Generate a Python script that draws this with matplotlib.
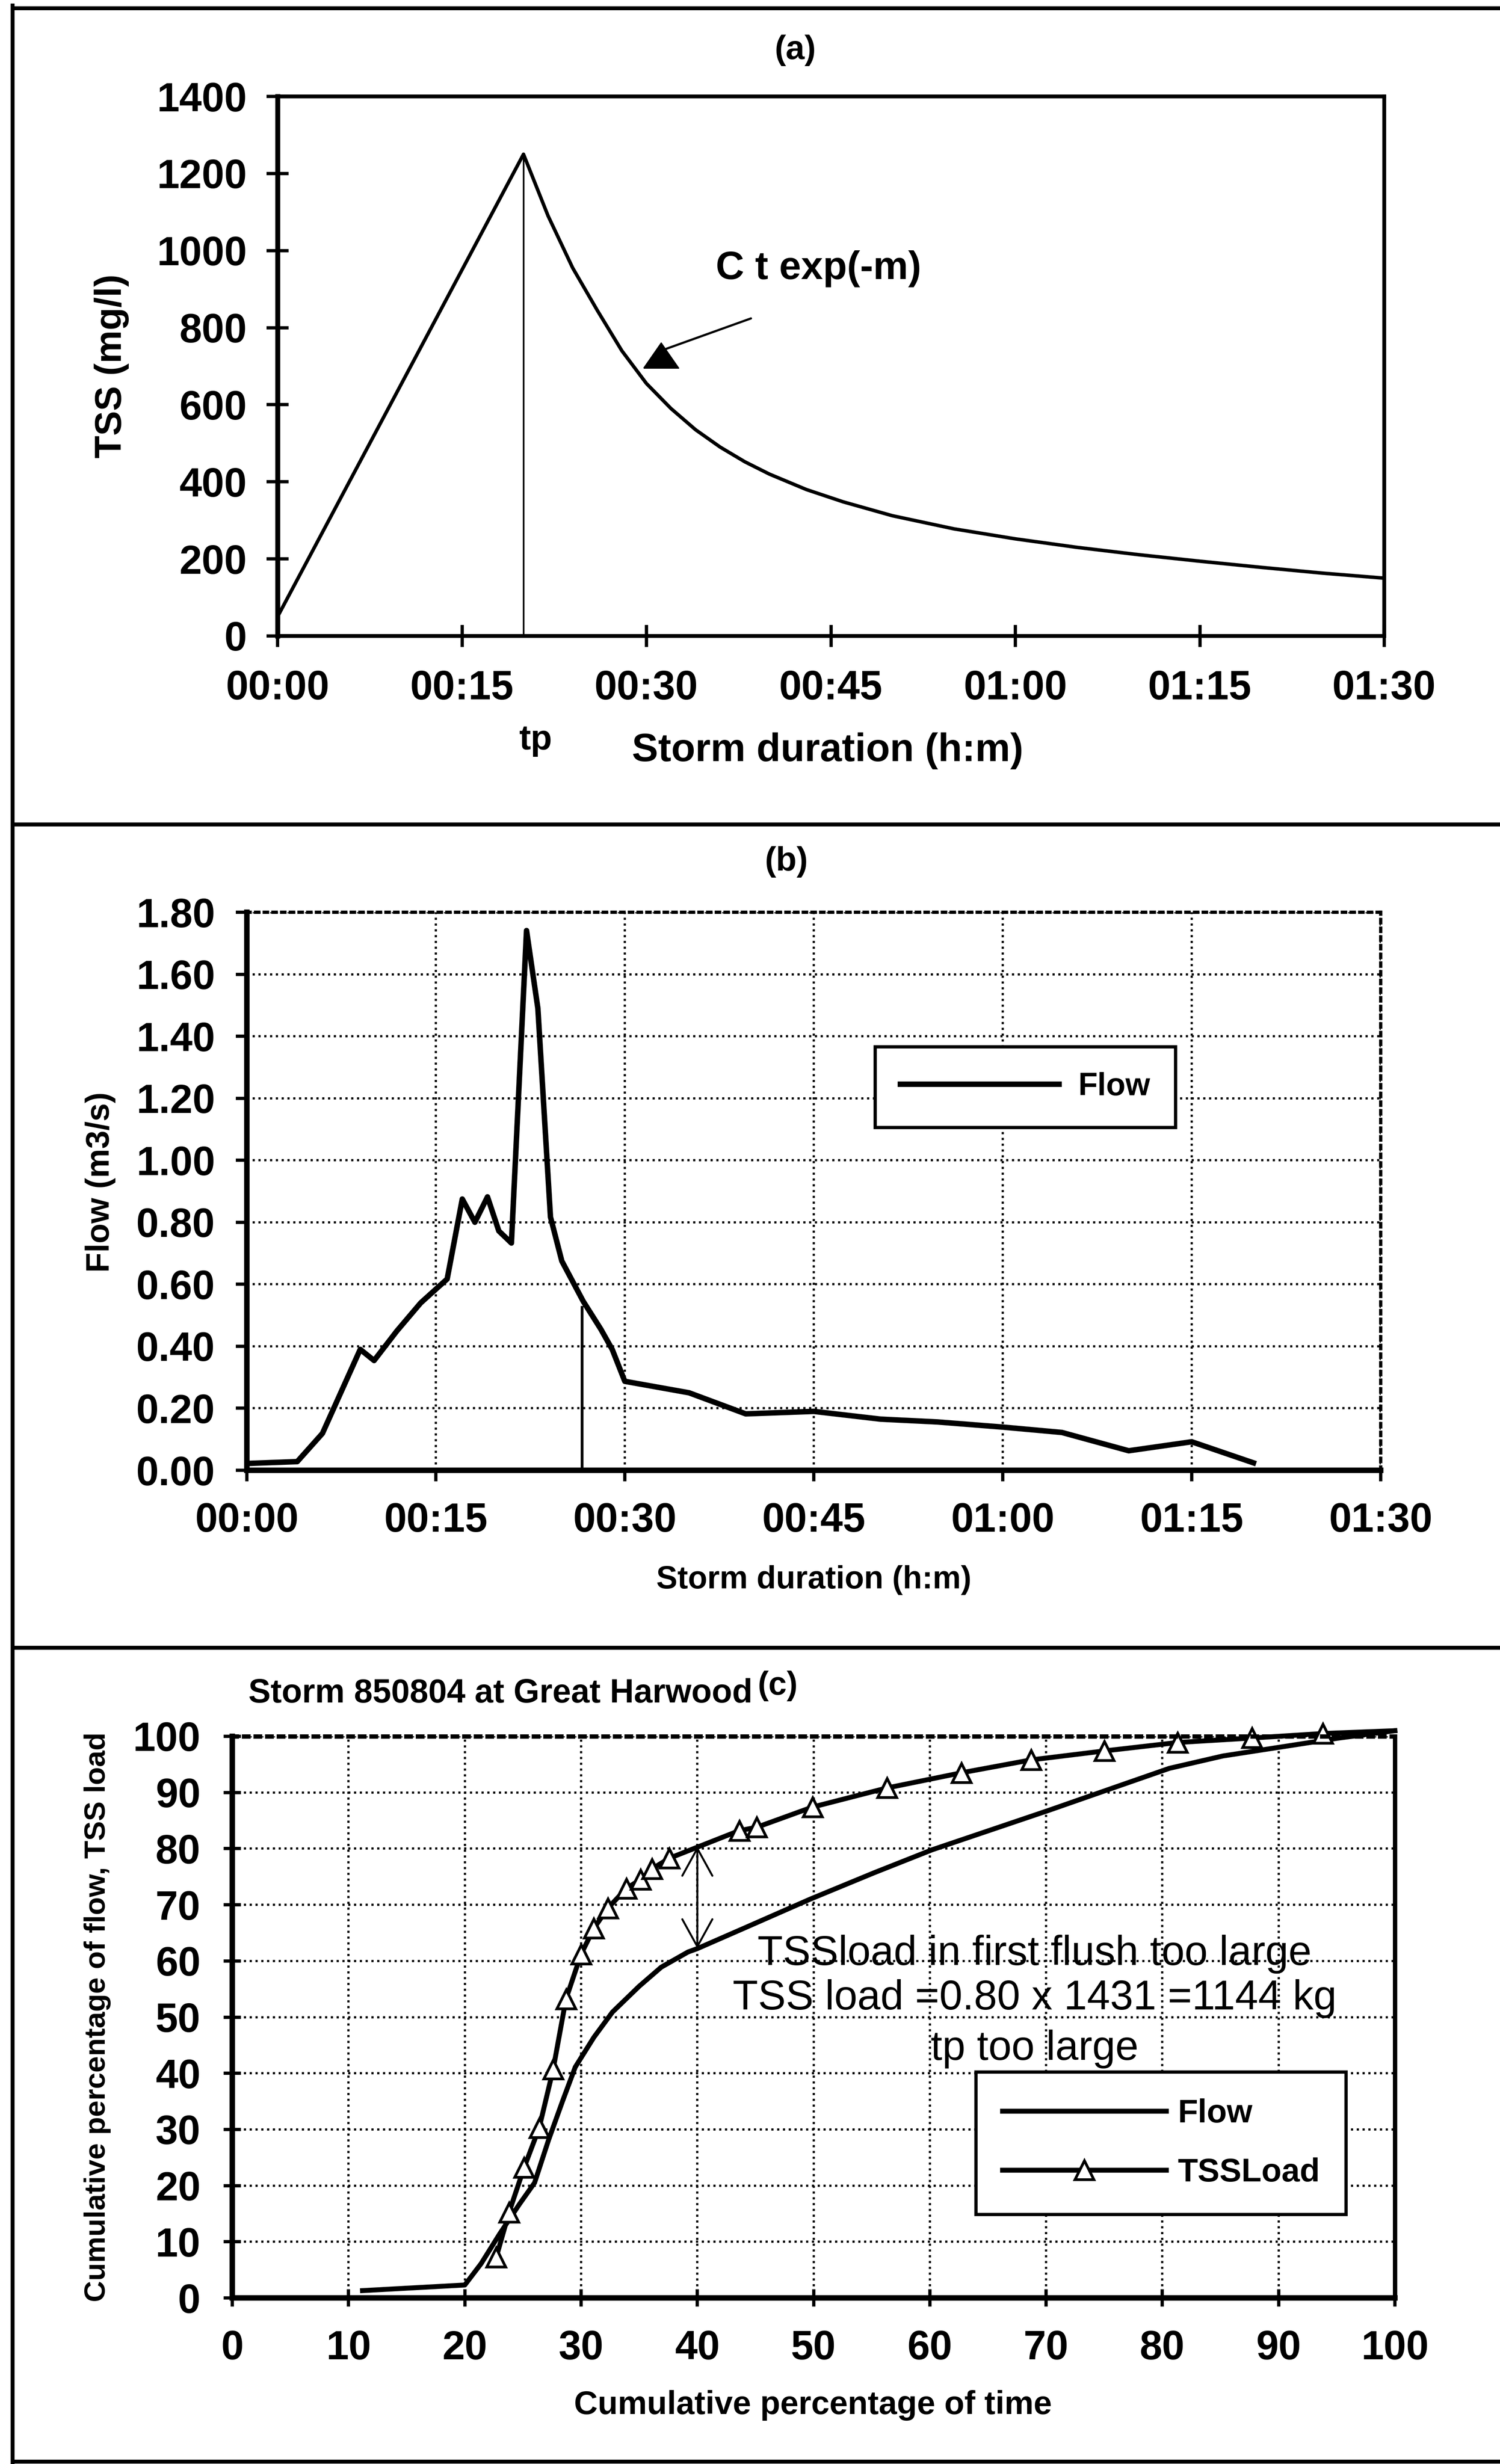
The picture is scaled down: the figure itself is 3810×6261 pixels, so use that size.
import matplotlib.pyplot as plt
from matplotlib.lines import Line2D
from matplotlib.ticker import FixedLocator, FuncFormatter

plt.rcParams['font.family'] = ['Liberation Sans', 'DejaVu Sans']
plt.rcParams['font.weight'] = 'bold'
plt.rcParams['axes.labelweight'] = 'bold'

# ---- data ----
# (a) TSS pollutograph, minutes vs mg/l
tss_min = [0, 20, 22, 24, 26, 28, 30, 32, 34, 36, 38, 40, 43, 46, 50, 55, 60, 65, 70, 75, 80, 85, 90]
tss_mgl = [50, 1250, 1090, 955, 845, 740, 655, 590, 535, 490, 452, 420, 380, 348, 312, 278, 252,
           230, 211, 194, 178, 163, 150]
tp_a = 20
# label arrow for the decay curve
arrow_a_from = (38.5, 824)
arrow_a_to = (31.6, 745)
arrow_a_head = (31.2, 728)

# (b) hydrograph, minutes vs m3/s
flow_min = [0, 4, 6, 9, 10.1, 11.9, 13.8, 15.9, 17.1, 18.1, 19.1, 20.0, 21.0, 22.2, 23.1,
            24.1, 25.0, 26.7, 28.1, 29.0, 30.0, 35.1, 39.6, 45.0, 50.3, 54.8, 60.1, 64.7,
            70.0, 75.0, 79.9]
flow_m3s = [0.022, 0.028, 0.119, 0.39, 0.354, 0.449, 0.54, 0.617, 0.875, 0.80, 0.882, 0.772,
            0.733, 1.741, 1.49, 0.817, 0.675, 0.545, 0.455, 0.39, 0.287, 0.25, 0.182, 0.19,
            0.165, 0.156, 0.139, 0.122, 0.063, 0.092, 0.024]
tp_b = 26.6
tp_b_flow = 0.53

# (c) cumulative curves, % of time vs %
cum_time_flow = [11.2, 20, 21.4, 23.0, 24.7, 26.0, 27.2, 28.4, 29.5, 31.1, 32.7, 35.0, 36.9,
                 39.2, 40, 44.2, 49.7, 55.2, 60.2, 65.2, 70.2, 75.6, 80.6, 85.2, 90.2, 95.2, 100]
cum_flow = [1.3, 2.3, 6.1, 11.4, 16.7, 20.5, 28.1, 35.0, 41.1, 46.4, 50.9, 55.5, 58.9,
            61.6, 62.2, 66.0, 71.0, 75.7, 79.8, 83.3, 86.8, 90.7, 94.3, 96.5, 98.1, 99.7, 101]
cum_time_tss = [22.7, 23.8, 25.1, 26.4, 27.6, 28.7, 30.0, 31.1, 32.3, 33.9, 35.1, 36.1, 37.6,
                43.6, 45.1, 49.9, 56.3, 62.7, 68.7, 75.0, 81.3, 87.7, 93.8, 100]
cum_tss = [7.2, 15.2, 23.2, 30.3, 40.7, 53.2, 61.2, 65.8, 69.4, 72.9, 74.5, 76.4, 78.3,
           83.2, 83.8, 87.4, 90.8, 93.5, 95.8, 97.4, 98.9, 99.7, 100.5, 101]
flush_x = 40
flush_top = 80.4
flush_bottom = 62.2
notes_c = ['TSSload in first flush too large', 'TSS load =0.80 x 1431 =1144 kg', 'tp too large']
notes_c_y = [61.2, 53.3, 44.3]

W, H = 3810, 6261
fig = plt.figure(figsize=(W / 200, H / 200), dpi=200)


def box(l, t, r, b):
    return [l / W, 1 - b / H, (r - l) / W, (b - t) / H]


def hm(v, pos):
    v = int(round(v))
    return f"{v // 60:02d}:{v % 60:02d}"


# frame lines around the three panels
for x0, y0, x1, y1 in [(32, 14, 32, 6258), (32, 21, W, 21), (32, 2095, W, 2095),
                       (32, 4187, W, 4187), (32, 6255, W, 6255)]:
    fig.add_artist(Line2D([x0 / W, x1 / W], [1 - y0 / H, 1 - y1 / H],
                          transform=fig.transFigure, color='black', lw=3.6))

# ---------------- (a) ----------------
ax_a = fig.add_axes(box(705, 245, 3516, 1616))
ax_a.plot(tss_min, tss_mgl, color='black', lw=3.2)
ax_a.vlines(tp_a, 0, tss_mgl[tss_min.index(tp_a)], color='black', lw=1.5)
ax_a.set_xlim(0, 90)
ax_a.set_ylim(0, 1400)
ax_a.xaxis.set_major_locator(FixedLocator(range(0, 91, 15)))
ax_a.xaxis.set_major_formatter(FuncFormatter(hm))
ax_a.yaxis.set_major_locator(FixedLocator(range(0, 1401, 200)))
ax_a.tick_params(direction='inout', length=20, width=3, labelsize=37)
ax_a.tick_params(axis='y', pad=18)
ax_a.tick_params(axis='x', pad=21)
for s in ax_a.spines.values():
    s.set_linewidth(3.5)
ax_a.spines['left'].set_linewidth(4.5)

ax_a.annotate('', xy=arrow_a_to, xytext=arrow_a_from,
              arrowprops=dict(arrowstyle='-', lw=2, color='black', shrinkA=0, shrinkB=0))
tri = [(-1, -0.72), (1, -0.72), (0, 0.72), (-1, -0.72)]
ax_a.plot([arrow_a_head[0]], [arrow_a_head[1]], marker=tri, ms=32, color='black')
ax_a.text(44, 953, 'C t exp(-m)', ha='center', va='center', fontsize=36)
ax_a.text(0.468, 1.085, '(a)', transform=ax_a.transAxes, ha='center', va='center', fontsize=31)
ax_a.text(21, -0.193, 'tp', transform=ax_a.get_xaxis_transform(), ha='center', va='center',
          fontsize=32)
ax_a.set_xlabel('Storm duration (h:m)', fontsize=36, va='center')
ax_a.xaxis.set_label_coords(0.497, -0.213)
ax_a.set_ylabel('TSS (mg/l)', fontsize=34, va='center')
ax_a.yaxis.set_label_coords(-0.150, 0.5)

# ---------------- (b) ----------------
ax_b = fig.add_axes(box(627, 2318, 3507, 3736))
ax_b.plot(flow_min, flow_m3s, color='black', lw=5, label='Flow')
ax_b.vlines(tp_b, 0, tp_b_flow, color='black', lw=2.5)
ax_b.set_xlim(0, 90)
ax_b.set_ylim(0, 1.8)
ax_b.xaxis.set_major_locator(FixedLocator(range(0, 91, 15)))
ax_b.xaxis.set_major_formatter(FuncFormatter(hm))
ax_b.yaxis.set_major_locator(FixedLocator([i * 0.2 for i in range(10)]))
ax_b.yaxis.set_major_formatter(FuncFormatter(lambda v, p: f"{v:.2f}"))
ax_b.grid(True, ls=':', lw=2, color='black')
ax_b.tick_params(direction='out', length=10, width=3, labelsize=37, pad=19)
for side in ['left', 'bottom']:
    ax_b.spines[side].set_linewidth(5)
for side in ['top', 'right']:
    ax_b.spines[side].set_linestyle(':')
    ax_b.spines[side].set_linewidth(3)
leg_b = ax_b.legend(loc='upper left', bbox_to_anchor=(2223 / W, 1 - 2660 / H),
                    bbox_transform=fig.transFigure, fontsize=29, handlelength=5,
                    handletextpad=0.6, borderpad=0.8, borderaxespad=0, fancybox=False,
                    framealpha=1, edgecolor='black')
leg_b.get_frame().set_linewidth(3)
ax_b.text(0.476, 1.090, '(b)', transform=ax_b.transAxes, ha='center', va='center', fontsize=31)
ax_b.set_xlabel('Storm duration (h:m)', fontsize=29, va='center')
ax_b.xaxis.set_label_coords(0.5, -0.197)
ax_b.set_ylabel('Flow (m3/s)', fontsize=30, va='center')
ax_b.yaxis.set_label_coords(-0.129, 0.516)

# ---------------- (c) ----------------
ax_c = fig.add_axes(box(590, 4412, 3543, 5839))
ax_c.plot(cum_time_flow, cum_flow, color='black', lw=4.5, label='Flow', clip_on=False)
ax_c.plot(cum_time_tss, cum_tss, color='black', lw=4.5, marker='^', ms=17, mfc='white',
          mec='black', mew=2.5, markevery=list(range(len(cum_tss) - 1)), label='TSSLoad',
          clip_on=False)
ax_c.set_xlim(0, 100)
ax_c.set_ylim(0, 100)
ax_c.xaxis.set_major_locator(FixedLocator(range(0, 101, 10)))
ax_c.yaxis.set_major_locator(FixedLocator(range(0, 101, 10)))
ax_c.grid(True, ls=':', lw=2, color='black')
ax_c.tick_params(direction='inout', length=16, width=3, labelsize=37, pad=21)
for side in ['left', 'bottom']:
    ax_c.spines[side].set_linewidth(5)
ax_c.spines['right'].set_linewidth(4)
ax_c.spines['top'].set_linestyle(':')
ax_c.spines['top'].set_linewidth(4)

ax_c.annotate('', xy=(flush_x, flush_bottom), xytext=(flush_x, flush_top),
              arrowprops=dict(arrowstyle='<->,head_length=1.0,head_width=0.55',
                              mutation_scale=25, lw=1.8, color='black',
                              shrinkA=0, shrinkB=0))
for txt, yy in zip(notes_c, notes_c_y):
    ax_c.text(69, yy, txt, ha='center', va='center', fontsize=38, fontweight='normal')

leg_c = ax_c.legend(loc='upper left', bbox_to_anchor=(2479 / W, 1 - 5265 / H),
                    bbox_transform=fig.transFigure, fontsize=30, handlelength=5,
                    handletextpad=0.35, borderpad=0.8, labelspacing=0.87, borderaxespad=0,
                    fancybox=False, framealpha=1, edgecolor='black')
leg_c.get_frame().set_linewidth(3)

ax_c.text(0.014, 1.076, 'Storm 850804 at Great Harwood', transform=ax_c.transAxes,
          ha='left', va='center', fontsize=30.5)
ax_c.text(0.452, 1.090, '(c)', transform=ax_c.transAxes, ha='left', va='center', fontsize=30)
ax_c.set_xlabel('Cumulative percentage of time', fontsize=30, va='center')
ax_c.xaxis.set_label_coords(0.4995, -0.191)
ax_c.set_ylabel('Cumulative percentage of flow, TSS load', fontsize=27, va='center')
ax_c.yaxis.set_label_coords(-0.116, 0.5)

fig.savefig('out.png', dpi=200)
